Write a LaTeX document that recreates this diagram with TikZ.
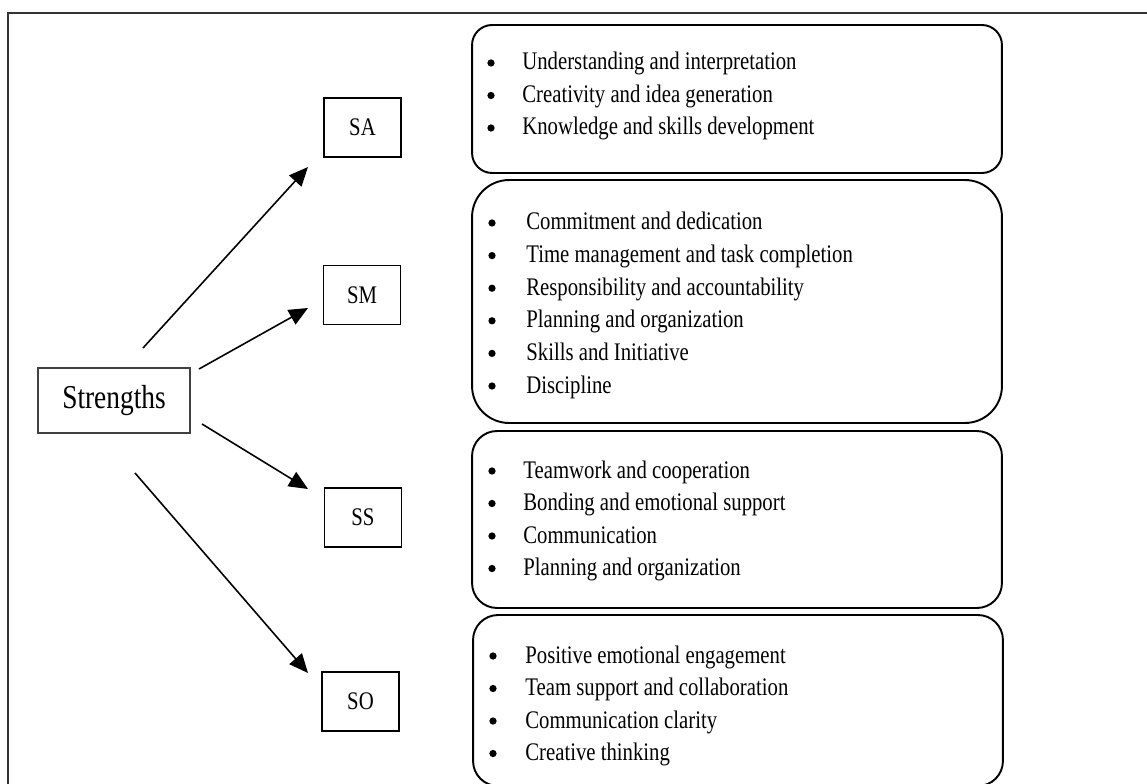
\documentclass[tikz,border=0pt]{standalone}
\usepackage{fontspec}
\setmainfont[FakeStretch=0.82]{Liberation Serif}
\usetikzlibrary{arrows.meta,calc,positioning}

\begin{document}
\begin{tikzpicture}[>={Triangle[length=0.38cm,width=0.33cm]},x=0.02cm,y=-0.02cm,
  cat/.style={draw,line width=1.1pt,minimum width=1.54cm,minimum height=1.18cm,inner sep=0,font=\fontsize{14.4}{17}\selectfont},
  grp/.style={draw,line width=1.1pt,minimum width=10.6cm,inner sep=0},
  item/.style={anchor=base west,inner sep=0,font=\fontsize{14.4}{17}\selectfont},
  dot/.style={circle,fill,inner sep=0,minimum size=0.145cm},
  link/.style={->,line width=0.9pt}]
\useasboundingbox (0,0) rectangle (1147,784);
% outer frame
\draw[line width=0.9pt,black!80] (8,790) -- (8,13) -- (1150,13);
% left side
\node[draw=black!75,line width=0.6pt,minimum width=3.04cm,minimum height=1.3cm,inner sep=0,font=\fontsize{19}{22}\selectfont] (str) at (114,400.5) {Strengths};
\node[cat] (SA) at (362.5,127.5) {SA};
\node[cat] (SM) at (362,295) {SM};
\node[cat] (SS) at (363,517.5) {SS};
\node[cat] (SO) at (360.5,701.5) {SO};
\coordinate (fA) at (143,348); \coordinate (tA) at (308,167);
\coordinate (fM) at (199,369); \coordinate (tM) at (308,308);
\coordinate (fS) at (202,424); \coordinate (tS) at (308,489);
\coordinate (fO) at (135,473); \coordinate (tO) at (308,673);
\foreach \k in {A,M,S,O}{\draw[link] (f\k) -- (t\k);}
% rounded groups
\node[grp,minimum height=2.96cm,rounded corners=0.4cm] (gA) at (737,99) {};
\node[grp,minimum height=4.86cm,rounded corners=0.74cm] (gM) at (737,301.5) {};
\node[grp,minimum height=3.54cm,rounded corners=0.5cm] (gS) at (737,519.5) {};
\node[grp,minimum height=3.42cm,rounded corners=0.5cm] (gO) at (738,700.5) {};
% item lists
\foreach \t [count=\i] in {Understanding and interpretation,Creativity and idea generation,Knowledge and skills development}
  {\node[item] (a\i) at (522,{70+32.5*(\i-1)}) {\t};
   \node[dot] (ba\i) at ($(a\i.base west)+(-31,-7)$) {};}
\foreach \t [count=\i] in {Commitment and dedication,Time management and task completion,Responsibility and accountability,Planning and organization,Skills and Initiative,Discipline}
  {\node[item] (m\i) at (526,{230+32.6*(\i-1)}) {\t};
   \node[dot] (bm\i) at ($(m\i.base west)+(-34,-7)$) {};}
\foreach \t [count=\i] in {Teamwork and cooperation,Bonding and emotional support,Communication,Planning and organization}
  {\node[item] (s\i) at (523,{478+32.5*(\i-1)}) {\t};
   \node[dot] (bs\i) at ($(s\i.base west)+(-31,-7)$) {};}
\foreach \t [count=\i] in {Positive emotional engagement,Team support and collaboration,Communication clarity,Creative thinking}
  {\node[item] (o\i) at (525,{663+32.5*(\i-1)}) {\t};
   \node[dot] (bo\i) at ($(o\i.base west)+(-32,-7)$) {};}
\end{tikzpicture}
\end{document}
